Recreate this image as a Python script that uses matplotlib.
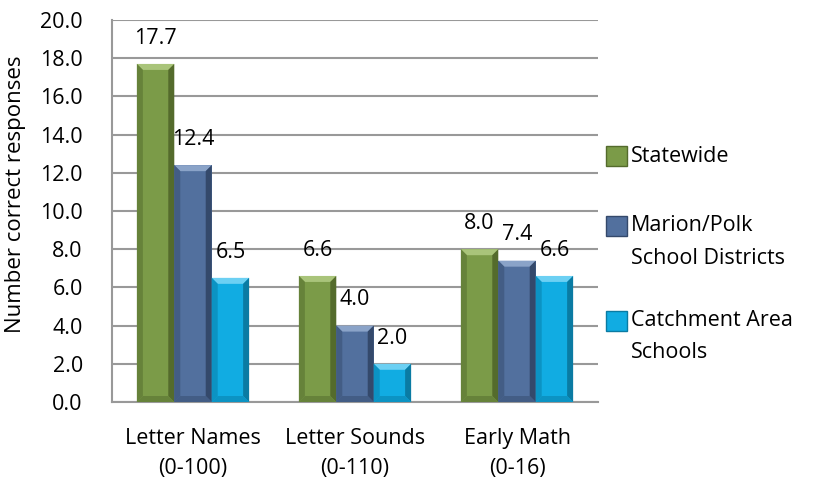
import matplotlib
matplotlib.use("Agg")
import matplotlib.pyplot as plt
from matplotlib.patches import Polygon, Rectangle
import numpy as np

categories = ["Letter Names\n(0-100)", "Letter Sounds\n(0-110)", "Early Math\n(0-16)"]
series_names = ["Statewide", "Marion/Polk\nSchool Districts", "Catchment Area\nSchools"]
statewide = [17.7, 6.6, 8.0]
marion_polk = [12.4, 4.0, 7.4]
catchment = [6.5, 2.0, 6.6]
yticks = [0, 2, 4, 6, 8, 10, 12, 14, 16, 18, 20]

series = [statewide, marion_polk, catchment]
colors = ["#7B9B48", "#52709E", "#11ACE2"]
light = ["#A9C47A", "#8AA3C8", "#6CD0F3"]
dark = ["#546B2C", "#34496B", "#0A7BA3"]
mid = ["#66823A", "#435D85", "#0C93C3"]

FONT = "Open Sans"
FS = 15.5
plt.rcParams['font.family'] = [FONT, 'DejaVu Sans']

W, H = 822, 483
fig = plt.figure(figsize=(W / 100, H / 100), dpi=100)
L, R, B, T = 112, 598, 402, 20
ax = fig.add_axes([L / W, 1 - B / H, (R - L) / W, (B - T) / H])
ax.set_xlim(-0.5, 2.5)
ax.set_ylim(0, 20)

x = np.arange(len(categories))
bw = 0.231
offsets = [-bw, 0, bw]

px_x = 3.0 / (R - L)
px_y = 20.0 / (B - T)
bv = 6

for i, vals in enumerate(series):
    bars = ax.bar(x + offsets[i], vals, width=bw, color=colors[i], zorder=3, linewidth=0)
    for rect in bars:
        x0 = rect.get_x()
        x1 = x0 + rect.get_width()
        y1 = rect.get_height()
        y0 = 0
        bx = bv * px_x
        by = bv * px_y
        ax.add_patch(Polygon([(x0, y1), (x1, y1), (x1 - bx, y1 - by), (x0 + bx, y1 - by)],
                             closed=True, facecolor=light[i], edgecolor='none', zorder=4))
        ax.add_patch(Polygon([(x0, y0), (x0, y1), (x0 + bx, y1 - by), (x0 + bx, y0 + by)],
                             closed=True, facecolor=mid[i], edgecolor='none', zorder=4))
        ax.add_patch(Polygon([(x1, y0), (x1, y1), (x1 - bx, y1 - by), (x1 - bx, y0 + by)],
                             closed=True, facecolor=dark[i], edgecolor='none', zorder=4))
        ax.add_patch(Polygon([(x0, y0), (x1, y0), (x1 - bx, y0 + by), (x0 + bx, y0 + by)],
                             closed=True, facecolor=mid[i], edgecolor='none', zorder=4))
    for xi, v in zip(x + offsets[i], vals):
        ax.text(xi, v + 0.8, f"{v:.1f}", ha='center', va='bottom', fontsize=FS, zorder=5)

ax.set_yticks(yticks)
ax.set_yticklabels([f"{t:.1f}" for t in yticks], fontsize=FS)
ax.set_xticks(x)
ax.set_xticklabels(categories, fontsize=FS, linespacing=1.55)
ax.tick_params(axis='both', length=0)
ax.tick_params(axis='y', pad=21)
ax.tick_params(axis='x', pad=19)
ax.grid(axis='y', color='#999999', linewidth=1.5, zorder=0)
ax.set_axisbelow(True)
for s in ['top', 'right']:
    ax.spines[s].set_visible(False)
for s in ['left', 'bottom']:
    ax.spines[s].set_color('#999999')
    ax.spines[s].set_linewidth(1.5)
ax.set_ylabel("Number correct responses", fontsize=16)
ax.yaxis.set_label_coords(-0.177, 0.545)

leg_y = [156, 226, 321]
for i, name in enumerate(series_names):
    y = leg_y[i]
    fig.patches.append(Rectangle((606 / W, 1 - (y + 10) / H), 21 / W, 20 / H,
                                 transform=fig.transFigure, facecolor=colors[i],
                                 edgecolor=dark[i], linewidth=1))
    lines = name.split("\n")
    for j, ln in enumerate(lines):
        fig.text(631 / W, 1 - (y + j * 32) / H, ln, ha='left', va='center', fontsize=FS)

fig.savefig("out.png", dpi=100)
